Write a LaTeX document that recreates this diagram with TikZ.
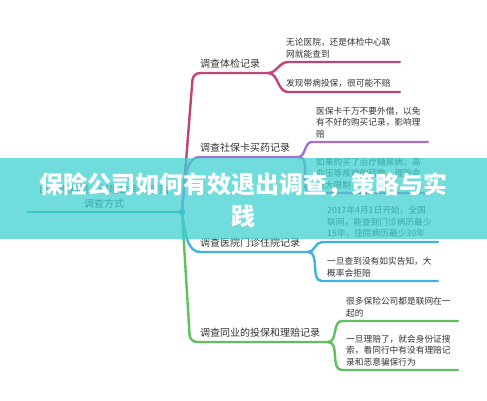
\documentclass[tikz,border=0pt]{standalone}
\usepackage{fontspec}
\setmainfont{Noto Sans CJK SC}
\usetikzlibrary{positioning}

\definecolor{txtgray}{HTML}{333333}
\definecolor{bandteal}{RGB}{64,208,208}
\definecolor{rootline}{HTML}{3AA6C4}
\definecolor{rosebr}{HTML}{C2427A}
\definecolor{violetbr}{HTML}{A56FD6}
\definecolor{skybr}{HTML}{3FB2E0}
\definecolor{leafbr}{HTML}{5EC15E}

\tikzset{
  branch/.style={line width=2.4pt, line cap=round},
  topic/.style={font=\fontsize{10}{12}\selectfont, text=txtgray, inner sep=0pt},
  leaf/.style={font=\fontsize{8.7}{11.5}\selectfont, text=txtgray, inner sep=0pt, align=left},
  headline/.style={font=\bfseries\fontsize{24}{32}\selectfont, text=white, align=center},
}

\begin{document}
\begin{tikzpicture}[x=1pt, y=-1pt]
  \useasboundingbox (0,0) rectangle (487,400);

  \coordinate (rootL) at (28,212);
  \coordinate (root)  at (182,212);

  % Root topic
  \draw[branch, rootline] (rootL) -- (root);
  \node[topic, align=center, font=\fontsize{10}{14}\selectfont, anchor=south] (rootT) at (104,209)
       {出现理赔时，保险公司的理赔\\调查方式};

  % Branch 1
  \coordinate (t1k) at (193,73);
  \coordinate (t1e) at (268,73);
  \coordinate (l11s) at (288,62);
  \coordinate (l11e) at (400,62);
  \coordinate (l12s) at (288,92);
  \coordinate (l12e) at (400,92);
  \draw[branch, rosebr, rounded corners=7pt] (root) -- (t1k) -- (t1e);
  \draw[branch, rosebr] (t1e) to[out=0, in=180] (l11s) -- (l11e);
  \draw[branch, rosebr] (t1e) to[out=0, in=180] (l12s) -- (l12e);
  \node[topic, above right=4pt and 7pt of t1k] (t1) {调查体检记录};
  \node[leaf, above right=4pt and -2pt of l11s] (l11) {无论医院，还是体检中心联\\网就能查到};
  \node[leaf, above right=4pt and -2pt of l12s] (l12) {发现带病投保，很可能不赔};

  % Branch 2
  \coordinate (t2s) at (200,157);
  \coordinate (t2e) at (298,157);
  \coordinate (l21s) at (312,142);
  \coordinate (l21e) at (428,142);
  \coordinate (l22s) at (312,193);
  \coordinate (l22e) at (427,193);
  \draw[branch, violetbr] (root) .. controls (185,170) and (188,157) .. (t2s) -- (t2e);
  \draw[branch, violetbr] (t2e) to[out=0, in=180] (l21s) -- (l21e);
  \draw[branch, violetbr] (t2e) to[out=0, in=180] (l22s) -- (l22e);
  \node[topic, above right=4pt and 0pt of t2s] (t2) {调查社保卡买药记录};
  \node[leaf, above right=4pt and 4pt of l21s] (l21) {医保卡千万不要外借，以免\\有不好的购买记录，影响理\\赔};
  \node[leaf, above right=4pt and 4pt of l22s] (l22) {如果购买了治疗糖尿病，高\\血压等疾病的药物，理赔会\\很大限制};

  % Branch 3
  \coordinate (t3s) at (200,252);
  \coordinate (t3e) at (308,252);
  \coordinate (l31s) at (322,242);
  \coordinate (l31e) at (438,242);
  \coordinate (l32s) at (322,281);
  \coordinate (l32e) at (438,281);
  \draw[branch, skybr] (root) .. controls (185,235) and (188,252) .. (t3s) -- (t3e);
  \draw[branch, skybr] (t3e) to[out=0, in=180] (l31s) -- (l31e);
  \draw[branch, skybr] (t3e) to[out=0, in=180] (l32s) -- (l32e);
  \node[topic, above right=4pt and 0pt of t3s] (t3) {调查医院门诊住院记录};
  \node[leaf, above right=4pt and 5pt of l31s] (l31) {2017年4月1日开始，全国\\联网，能查到门诊病历最少\\15年，住院病历最少30年};
  \node[leaf, above right=4pt and 5pt of l32s] (l32) {一旦查到没有如实告知，大\\概率会拒赔};

  % Branch 4
  \coordinate (t4k) at (190,342);
  \coordinate (t4e) at (328,342);
  \coordinate (l41s) at (342,321);
  \coordinate (l41e) at (458,321);
  \coordinate (l42s) at (342,370);
  \coordinate (l42e) at (458,370);
  \draw[branch, leafbr, rounded corners=7pt] (root) -- (t4k) -- (t4e);
  \draw[branch, leafbr] (t4e) to[out=0, in=180] (l41s) -- (l41e);
  \draw[branch, leafbr] (t4e) to[out=0, in=180] (l42s) -- (l42e);
  \node[topic, above right=4pt and 10pt of t4k] (t4) {调查同业的投保和理赔记录};
  \node[leaf, above right=4pt and 4pt of l41s] (l41) {很多保险公司都是联网在一\\起的};
  \node[leaf, above right=4pt and 4pt of l42s] (l42) {一旦理赔了，就会身份证搜\\索，看同行中有没有理赔记\\录和恶意骗保行为};

  \filldraw[rootline] (root) circle (3);

  % Title band
  \fill[bandteal, fill opacity=0.75] (0,158) rectangle (487,239);
  \node[headline] (ttl) at (243.5,200) {保险公司如何有效退出调查，策略与实\\践};

\end{tikzpicture}
\end{document}
